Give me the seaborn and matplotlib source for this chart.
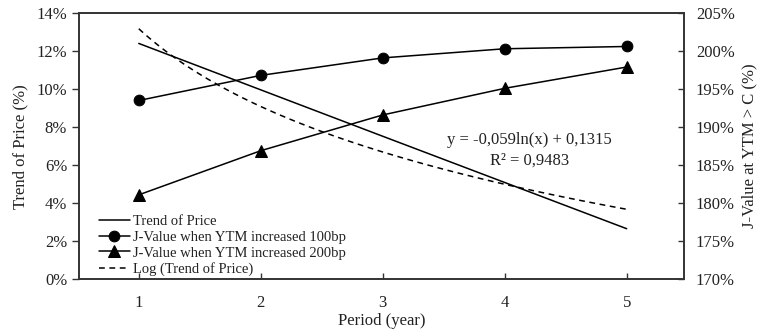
import matplotlib
matplotlib.use("Agg")
import matplotlib.pyplot as plt
from matplotlib.ticker import PercentFormatter, MultipleLocator
import seaborn as sns
import numpy as np

periods = [1, 2, 3, 4, 5]
trend_price = [0.1240, 0.0996, 0.0752, 0.0509, 0.0266]
jvalue_100bp = [1.935, 1.968, 1.991, 2.003, 2.006]
jvalue_200bp = [1.811, 1.869, 1.916, 1.951, 1.979]
legend_labels = ["Trend of Price", "J-Value when YTM increased 100bp",
                 "J-Value when YTM increased 200bp", "Log (Trend of Price)"]
equation_text = "y = -0,059ln(x) + 0,1315"
r2_text = "R\u00b2 = 0,9483"

sns.set_theme(style="white")
plt.rcParams["font.family"] = ["Liberation Serif", "DejaVu Serif"]
plt.rcParams["text.color"] = "#222222"

fig = plt.figure(figsize=(7.62, 3.33), dpi=100)
ax1 = fig.add_axes([79/762, 1-279.3/333, (684-79)/762, (279.3-13)/333])
ax2 = ax1.twinx()

lw = 1.1
sns.lineplot(x=periods, y=trend_price, ax=ax1, color="black", linewidth=lw)
sns.regplot(x=np.array(periods), y=np.array(trend_price), logx=True, scatter=False,
            ci=None, ax=ax1, color="black",
            line_kws=dict(linewidth=lw, linestyle=(0, (3.8, 3.0))))
sns.lineplot(x=periods, y=jvalue_100bp, ax=ax2, color="black", linewidth=lw,
             marker="o", markersize=7.7, markeredgecolor="black")
sns.lineplot(x=periods, y=jvalue_200bp, ax=ax2, color="black", linewidth=lw,
             marker="^", markersize=8, markeredgecolor="black")

ax1.set_xlim(0.51, 5.47)
ax1.set_ylim(0, 0.14)
ax2.set_ylim(1.70, 2.05)
ax1.yaxis.set_major_locator(MultipleLocator(0.02))
ax2.yaxis.set_major_locator(MultipleLocator(0.05))
ax1.yaxis.set_major_formatter(PercentFormatter(xmax=1, decimals=0))
ax2.yaxis.set_major_formatter(PercentFormatter(xmax=1, decimals=0))
ax1.set_xticks(periods)
ax1.set_xticklabels([str(p) for p in periods])

tc = "#222222"
ax1.tick_params(axis="y", which="major", direction="out", length=5, width=1,
                color="#333333", labelsize=12, labelcolor=tc, pad=3.5, left=True)
ax1.tick_params(axis="x", which="major", direction="in", length=4, width=1,
                color="#333333", labelsize=12, labelcolor=tc, pad=11, bottom=True)
ax2.tick_params(axis="y", which="major", direction="in", length=4.5, width=1,
                color="#333333", labelsize=12, labelcolor=tc, pad=8.5, right=True)

for ax in (ax1, ax2):
    for s in ax.spines.values():
        s.set_visible(True)
        s.set_color("#333333")
        s.set_linewidth(1.2)
    ax.grid(False)

ax1.set_xlabel("Period (year)", fontsize=12, color=tc, labelpad=2)
ax1.set_ylabel("Trend of Price (%)", fontsize=12, color=tc, labelpad=6)
ax2.set_ylabel("J-Value at YTM > C (%)", fontsize=12, color=tc, labelpad=5)

ax2.text(0.745, 0.524, equation_text, transform=ax1.transAxes, ha="center",
         va="center", fontsize=12, color=tc)
ax2.text(0.745, 0.445, r2_text, transform=ax1.transAxes, ha="center",
         va="center", fontsize=12, color=tc)

for ax in (ax1, ax2):
    lg = ax.get_legend()
    if lg is not None:
        lg.remove()

handles = [ax1.lines[0], ax2.lines[0], ax2.lines[1], ax1.lines[1]]
leg = ax2.legend(handles, legend_labels, loc="lower left",
                 bbox_to_anchor=(0.033, 0.012), frameon=False, fontsize=10.5,
                 handlelength=2.1, handletextpad=0.25, labelspacing=0.18,
                 borderpad=0, borderaxespad=0)

fig.savefig("out.png", dpi=100)
